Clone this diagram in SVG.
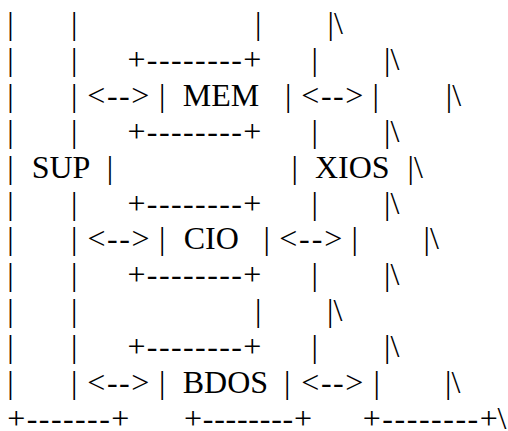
<svg xmlns="http://www.w3.org/2000/svg" width="508" height="431" viewBox="0 0 508 431">
<style>
text { font-family: "Liberation Serif", "Times New Roman", serif; font-size: 32px; fill: #000; }
.m { text-anchor: middle; }
.s { text-anchor: start; }
</style>
<rect width="508" height="431" fill="#fff"/>
<g id="sup">
<text class="m" x="10.5" y="34.2">|</text><text class="m" x="74.3" y="34.2">|</text>
<text class="m" x="10.5" y="70.1">|</text><text class="m" x="74.3" y="70.1">|</text>
<text class="m" x="10.5" y="105.9">|</text><text class="m" x="74.3" y="105.9">|</text>
<text class="m" x="10.5" y="141.8">|</text><text class="m" x="74.3" y="141.8">|</text>
<text class="m" x="10.5" y="177.6">|</text><text class="m" x="61" y="177.6">SUP</text><text class="m" x="110" y="177.6">|</text>
<text class="m" x="10.5" y="213.5">|</text><text class="m" x="74.3" y="213.5">|</text>
<text class="m" x="10.5" y="249.3">|</text><text class="m" x="74.3" y="249.3">|</text>
<text class="m" x="10.5" y="285.2">|</text><text class="m" x="74.3" y="285.2">|</text>
<text class="m" x="10.5" y="321">|</text><text class="m" x="74.3" y="321">|</text>
<text class="m" x="10.5" y="356.9">|</text><text class="m" x="74.3" y="356.9">|</text>
<text class="m" x="10.5" y="392.7">|</text><text class="m" x="74.3" y="392.7">|</text>
<text class="m" x="68.3" y="428.6" textLength="122" lengthAdjust="spacing">+-------+</text>
</g>
<g id="mem">
<text class="m" x="194.4" y="70.1" textLength="134" lengthAdjust="spacing">+--------+</text>
<text class="m" x="162.3" y="105.9">|</text><text class="m" x="221" y="105.9">MEM</text><text class="m" x="288.3" y="105.9">|</text>
<text class="m" x="194.4" y="141.8" textLength="134" lengthAdjust="spacing">+--------+</text>
</g>
<g id="cio">
<text class="m" x="194.4" y="213.5" textLength="134" lengthAdjust="spacing">+--------+</text>
<text class="m" x="162.3" y="249.3">|</text><text class="m" x="211.2" y="249.3">CIO</text><text class="m" x="266.7" y="249.3">|</text>
<text class="m" x="194.4" y="285.2" textLength="134" lengthAdjust="spacing">+--------+</text>
</g>
<g id="bdos">
<text class="m" x="194.4" y="356.9" textLength="134" lengthAdjust="spacing">+--------+</text>
<text class="m" x="162.3" y="392.7">|</text><text class="m" x="225.4" y="392.7">BDOS</text><text class="m" x="287.3" y="392.7">|</text>
<text class="m" x="248" y="428.6" textLength="128" lengthAdjust="spacing">+--------+</text>
</g>
<g id="xios">
<text class="m" x="258.2" y="34.2">|</text><text class="s" x="327.5" y="34.2">|\</text>
<text class="m" x="314.7" y="70.1">|</text><text class="s" x="384.1" y="70.1">|\</text>
<text class="m" x="375.7" y="105.9">|</text><text class="s" x="445.8" y="105.9">|\</text>
<text class="m" x="314.7" y="141.8">|</text><text class="s" x="384.1" y="141.8">|\</text>
<text class="m" x="294.7" y="177.6">|</text><text class="m" x="352.3" y="177.6">XIOS</text><text class="s" x="407.5" y="177.6">|\</text>
<text class="m" x="314.7" y="213.5">|</text><text class="s" x="384.1" y="213.5">|\</text>
<text class="m" x="354.7" y="249.3">|</text><text class="s" x="423.5" y="249.3">|\</text>
<text class="m" x="314.7" y="285.2">|</text><text class="s" x="384.1" y="285.2">|\</text>
<text class="m" x="258.3" y="321">|</text><text class="s" x="327.1" y="321">|\</text>
<text class="m" x="314.7" y="356.9">|</text><text class="s" x="384.1" y="356.9">|\</text>
<text class="m" x="376.7" y="392.7">|</text><text class="s" x="445.1" y="392.7">|\</text>
<text class="m" x="430.3" y="428.6" textLength="135" lengthAdjust="spacing">+--------+</text><text class="s" x="497.5" y="428.6">\</text>
</g>
<g id="connectors">
<text class="m" x="118.3" y="105.9" textLength="62" lengthAdjust="spacing">&lt;--&gt;</text>
<text class="m" x="332.3" y="105.9" textLength="62" lengthAdjust="spacing">&lt;--&gt;</text>
<text class="m" x="118.5" y="249.3" textLength="62" lengthAdjust="spacing">&lt;--&gt;</text>
<text class="m" x="310.7" y="249.3" textLength="63" lengthAdjust="spacing">&lt;--&gt;</text>
<text class="m" x="118.3" y="392.7" textLength="62" lengthAdjust="spacing">&lt;--&gt;</text>
<text class="m" x="332.3" y="392.7" textLength="62" lengthAdjust="spacing">&lt;--&gt;</text>
</g>
</svg>
